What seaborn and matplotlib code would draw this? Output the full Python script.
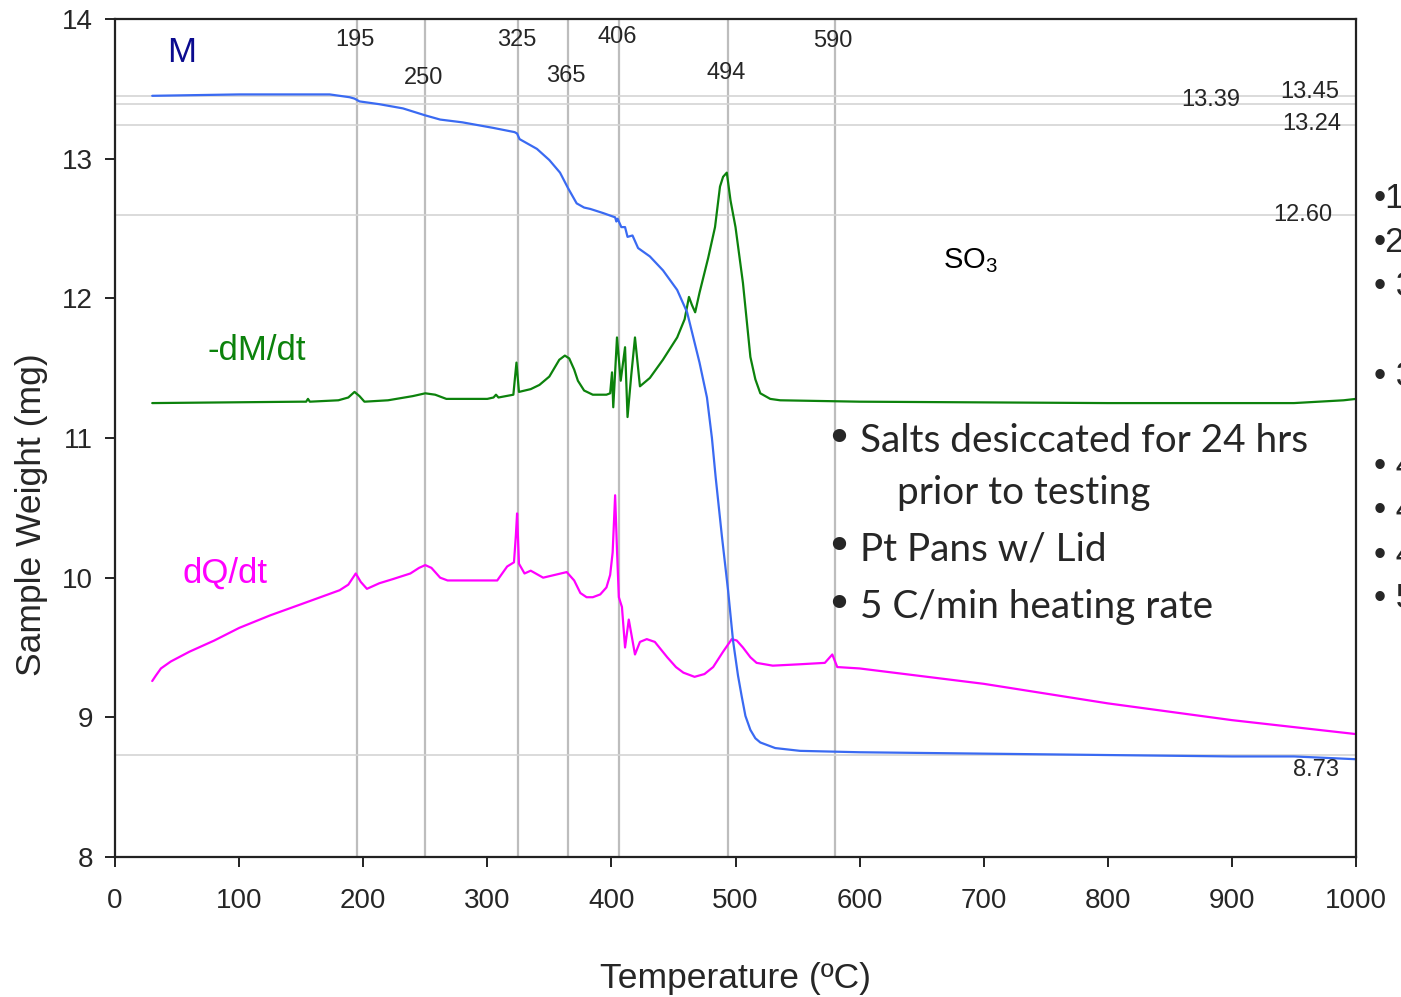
import matplotlib
matplotlib.use("Agg")
import matplotlib.pyplot as plt
import seaborn as sns
import pandas as pd

# ---- data ----
# sample weight M (mg)
m_temp = [30, 100, 173, 189, 193, 197, 213, 232, 250, 262, 280, 305, 322, 324, 326, 340,
          350, 358.6, 365, 372, 378, 383, 393.5, 403, 404, 405, 408, 411, 413, 417, 421.5,
          431, 441.6, 453, 461, 466, 471, 477, 481, 484, 489, 494, 498, 502, 505, 508, 512,
          516, 520, 526, 532, 552, 600, 700, 800, 900, 950, 1000]
m_weight = [13.45, 13.46, 13.46, 13.44, 13.43, 13.41, 13.39, 13.36, 13.31, 13.28, 13.26,
            13.22, 13.19, 13.18, 13.14, 13.07, 12.99, 12.90, 12.79, 12.68, 12.65, 12.64,
            12.61, 12.58, 12.55, 12.57, 12.51, 12.51, 12.44, 12.45, 12.36, 12.30, 12.20,
            12.06, 11.90, 11.72, 11.54, 11.29, 11.00, 10.72, 10.30, 9.91, 9.55, 9.30, 9.15,
            9.01, 8.91, 8.85, 8.82, 8.80, 8.78, 8.76, 8.75, 8.74, 8.73, 8.72, 8.72, 8.70]

# -dM/dt (scaled onto the same axis)
g_temp = [30, 150, 154, 155.5, 157, 180, 188, 193, 197, 201, 220, 240, 250, 258, 267, 300,
          305, 307, 309, 321, 322.5, 323.5, 325.5, 335, 342, 350, 358, 362.5, 366, 370, 373,
          378, 385, 396, 399, 400.5, 401.5, 404.5, 407.5, 411, 413, 416, 419, 423, 431,
          441.5, 453, 459, 462.5, 465, 467.5, 471, 478, 483.5, 487.5, 490, 493, 496, 500,
          506, 512, 516, 520, 528, 536, 600, 800, 950, 990, 1000]
g_vals = [11.25, 11.26, 11.26, 11.28, 11.26, 11.27, 11.29, 11.33, 11.30, 11.26, 11.27, 11.30,
          11.32, 11.31, 11.28, 11.28, 11.29, 11.31, 11.29, 11.31, 11.45, 11.54, 11.33, 11.35,
          11.38, 11.44, 11.56, 11.59, 11.57, 11.49, 11.41, 11.34, 11.31, 11.31, 11.32, 11.47,
          11.22, 11.72, 11.41, 11.65, 11.15, 11.45, 11.72, 11.37, 11.43, 11.56, 11.72, 11.85,
          12.01, 11.95, 11.90, 12.04, 12.29, 12.51, 12.80, 12.87, 12.90, 12.70, 12.51, 12.11,
          11.58, 11.42, 11.32, 11.28, 11.27, 11.26, 11.25, 11.25, 11.27, 11.28]

# dQ/dt (scaled onto the same axis)
q_temp = [30, 33, 37, 45, 60, 80, 100, 125, 150, 181, 188, 194, 198, 203, 213, 224, 238, 245,
          250, 255, 262, 268, 275, 308, 316, 321.5, 323, 324, 325.5, 330, 335, 345, 364, 370,
          375, 380, 385, 391, 396, 399, 401, 403, 404.5, 406, 408.5, 411, 414, 419, 423, 428.5,
          435, 445, 452, 458, 467, 475, 482, 490, 497, 501, 506, 512, 517, 530, 552, 572, 578,
          582, 600, 700, 800, 900, 1000]
q_vals = [9.26, 9.30, 9.35, 9.40, 9.47, 9.55, 9.64, 9.73, 9.81, 9.91, 9.95, 10.03, 9.97, 9.92,
          9.96, 9.99, 10.03, 10.07, 10.09, 10.07, 10.00, 9.98, 9.98, 9.98, 10.08, 10.11, 10.30,
          10.46, 10.10, 10.03, 10.05, 10.00, 10.04, 9.98, 9.89, 9.86, 9.86, 9.88, 9.93, 10.02,
          10.18, 10.59, 10.20, 9.86, 9.79, 9.50, 9.70, 9.45, 9.54, 9.56, 9.54, 9.43, 9.36,
          9.32, 9.29, 9.31, 9.36, 9.47, 9.56, 9.55, 9.50, 9.43, 9.39, 9.37, 9.38, 9.39, 9.45,
          9.36, 9.35, 9.24, 9.10, 8.98, 8.88]

# marked transitions (line position, label shown)
vline_pos = [195, 250, 325, 365, 406, 494, 580]
vline_labels = ["195", "250", "325", "365", "406", "494", "590"]
hline_vals = [13.45, 13.39, 13.24, 12.60, 8.73]

notes = ["Salts desiccated for 24 hrs", "prior to testing", "Pt Pans w/ Lid", "5 C/min heating rate"]
side_bullets = ["\u20221", "\u20222", "\u2022 3", "\u2022 3", "\u2022 4", "\u2022 4", "\u2022 4", "\u2022 5"]

m_df = pd.DataFrame({"T": m_temp, "v": m_weight})
g_df = pd.DataFrame({"T": g_temp, "v": g_vals})
q_df = pd.DataFrame({"T": q_temp, "v": q_vals})

sns.set_style("white")
plt.rcParams["font.family"] = ["Liberation Sans", "DejaVu Sans"]

W, H = 1401, 997
fig = plt.figure(figsize=(W / 100, H / 100), dpi=100)
ax = fig.add_axes([115 / W, 1 - 857 / H, (1356 - 115) / W, (857 - 19) / H])

for v in vline_pos:
    ax.axvline(v, color="#bdbdbd", lw=1.6, zorder=0)
for h in hline_vals:
    ax.axhline(h, color="#d4d4d4", lw=1.2, zorder=0)

sns.lineplot(data=q_df, x="T", y="v", color="#ff00ff", lw=1.6, sort=False, estimator=None, ax=ax)
sns.lineplot(data=g_df, x="T", y="v", color="#0c820c", lw=1.6, sort=False, estimator=None, ax=ax)
sns.lineplot(data=m_df, x="T", y="v", color="#3a6af2", lw=1.6, sort=False, estimator=None, ax=ax)

ax.set_xlim(0, 1000)
ax.set_ylim(8, 14)
ax.set_xticks(range(0, 1001, 100))
ax.set_yticks(range(8, 15))
ax.tick_params(axis="both", direction="out", length=7, width=1.4, color="#222222",
               labelsize=20, bottom=True, left=True)
ax.tick_params(axis="x", pad=15)
ax.tick_params(axis="y", pad=9)
for s in ax.spines.values():
    s.set_color("#222222")
    s.set_linewidth(1.6)
ax.set_xlabel("Temperature (\u00baC)", fontsize=25.5, va="center")
ax.set_ylabel("Sample Weight (mg)", fontsize=25.5, va="center")
ax.xaxis.set_label_coords(0.5, -0.1444)
ax.yaxis.set_label_coords(-0.0675, 0.408)

# curve labels
ax.text(54, 13.76, "M", color="#0b0b8f", fontsize=25, ha="center", va="center")
ax.text(114, 11.63, "-dM/dt", color="#0c820c", fontsize=25, ha="center", va="center")
ax.text(89, 10.03, "dQ/dt", color="#ff00ff", fontsize=25, ha="center", va="center")
ax.text(689, 12.27, "SO$_\\mathregular{3}$", color="black", fontsize=21, ha="center", va="center")

# transition labels, staggered
label_y = [13.85, 13.58, 13.85, 13.59, 13.87, 13.61, 13.84]
for pos, lab, yy in zip(vline_pos, vline_labels, label_y):
    ax.text(pos - 1.5, yy, lab, fontsize=17, ha="center", va="center")

# level labels
ax.text(883, 13.42, "13.39", fontsize=17, ha="center", va="center")
ax.text(963, 13.48, "13.45", fontsize=17, ha="center", va="center")
ax.text(964, 13.25, "13.24", fontsize=17, ha="center", va="center")
ax.text(957, 12.60, "12.60", fontsize=17, ha="center", va="center")
ax.text(968, 8.62, "8.73", fontsize=17, ha="center", va="center")

# bullet notes
note_y = [441, 493, 549, 607]
note_x = [860, 897, 860, 860]
for i, (txt, px, py) in enumerate(zip(notes, note_x, note_y)):
    fig.text(px / W, 1 - py / H, txt, fontsize=27.9, family=["Lato", "DejaVu Sans"], va="center")
    if i != 1:
        fig.text(839 / W, 1 - (py - 1) / H, "\u2022", fontsize=33, family=["DejaVu Sans"],
                 ha="center", va="center")

# slide bullets cut off at the right edge
side_y = [198, 242, 287, 376, 466, 511, 555, 599]
for txt, py in zip(side_bullets, side_y):
    fig.text(1374 / W, 1 - py / H, txt, fontsize=25, va="center")

fig.savefig("out.png", dpi=100)
